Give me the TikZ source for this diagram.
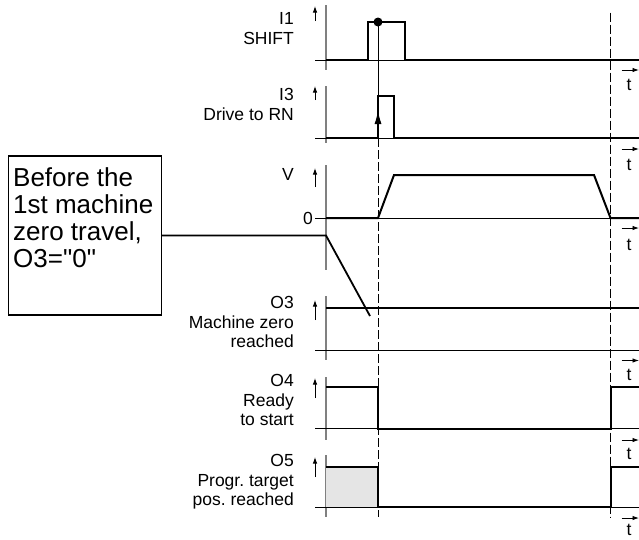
\documentclass[tikz,border=0pt]{standalone}
\usepackage{fontspec}
\setmainfont{Liberation Sans}[Ligatures=TeXOff]
\usetikzlibrary{positioning,arrows.meta}
\frenchspacing

\begin{document}
\begin{tikzpicture}[x=1pt,y=-1pt,
    sig/.style={line width=2pt,line join=miter},
    thin/.style={line width=0.9pt},
    axis/.style={line width=2pt,draw=black!50},
    uparr/.style={line width=0.9pt,-{Latex[length=6.5pt,width=4.5pt]}},
    tarr/.style={line width=0.9pt,-{Latex[length=6.5pt,width=4.5pt]}},
    guide/.style={line width=0.8pt},
    guidedash/.style={line width=0.8pt,dash pattern=on 9pt off 3pt},
    chlabel/.style={font=\fontsize{17.5}{19.5}\selectfont,align=right,anchor=north east,inner sep=0pt},
    tlabel/.style={font=\fontsize{17.5}{19.5}\selectfont,inner sep=0pt},
    notebox/.style={draw,line width=1.4pt,minimum width=153pt,minimum height=159pt,inner sep=0pt},
    notetext/.style={font=\fontsize{26}{27}\selectfont,align=left,anchor=north west,inner sep=0pt}
  ]
    \useasboundingbox (0,0) rectangle (639,539);

    % channel labels
    \node[chlabel] (lI1) at (294,12.5) {I1\\SHIFT};
    \node[chlabel] (lI3) at (294,88.5) {I3\\Drive to RN};
    \node[chlabel] (lV) at (294,168.5) {V};
    \node[chlabel,anchor=east] (lzero) at (313,218) {0};
    \node[chlabel] (lO3) at (294,296.5) {O3\\Machine zero\\reached};
    \node[chlabel] (lO4) at (294,374.5) {O4\\Ready\\to start};
    \node[chlabel] (lO5) at (294,454.5) {O5\\Progr. target\\pos. reached};

    % axes
    \draw[axis] (326,5) -- (326,70);
    \draw[axis] (326,86) -- (326,143);
    \draw[axis] (326,165) -- (326,270);
    \draw[axis] (326,296) -- (326,360);
    \draw[axis] (326,377) -- (326,440);
    \draw[axis] (326,455) -- (326,517);
    \draw[uparr] (315,21) -- (315,6);
    \draw[uparr] (315,100) -- (315,86);
    \draw[uparr] (315,187) -- (315,168);
    \draw[uparr] (315,320) -- (315,300);
    \draw[uparr] (315,398) -- (315,378);
    \draw[uparr] (315,477) -- (315,457);

    % baselines
    \draw[thin] (315,60) -- (639,60);
    \draw[thin] (315,138) -- (639,138);
    \draw[thin] (315,218) -- (639,218);
    \draw[thin] (315,350) -- (639,350);
    \draw[thin] (315,428.5) -- (639,428.5);
    \draw[thin] (315,507) -- (639,507);

    % time arrows
    \draw[tarr] (621.5,70) -- (639,70);
    \draw[tarr] (621.5,149) -- (639,149);
    \draw[tarr] (621.5,228) -- (639,228);
    \draw[tarr] (621.5,360.5) -- (639,360.5);
    \draw[tarr] (621.5,440) -- (639,440);
    \draw[tarr] (621.5,518) -- (639,518);
    \node[tlabel] (tI1) at (629,85) {t};
    \node[tlabel] (tI3) at (629,165) {t};
    \node[tlabel] (tV) at (629,245) {t};
    \node[tlabel] (tO3) at (629,375) {t};
    \node[tlabel] (tO4) at (629,454) {t};
    \node[tlabel] (tO5) at (629,530) {t};

    % time marks
    \draw[guide] (378,22) -- (378,138);
    \draw[guidedash] (378,138) -- (378,517);
    \draw[guidedash] (610.5,12.5) -- (610.5,517);

    % signals
    \fill[black!10] (326,466.5) rectangle (378,507);
    \draw[sig] (326,60) -- (368,60) -- (368,22) -- (405,22) -- (405,60) -- (639,60);
    \fill (378,22) circle (4.5pt);
    \draw[sig] (326,138) -- (378,138) -- (378,96) -- (394,96) -- (394,138) -- (639,138);
    \draw[line width=0.8pt,-{Latex[length=13pt,width=7pt]}] (378,130) -- (378,111);
    \draw[sig] (326,218) -- (378,218) -- (394,175) -- (594,175) -- (610.5,218) -- (639,218);
    \draw[sig] (326,307.5) -- (639,307.5);
    \draw[sig] (326,386.5) -- (378,386.5) -- (378,428.5) -- (610.5,428.5) -- (610.5,386.5) -- (639,386.5);
    \draw[sig] (326,466.5) -- (378,466.5) -- (378,507) -- (610.5,507) -- (610.5,466.5) -- (639,466.5);

    % note
    \node[notebox] (box) at (85,235.5) {};
    \node[notetext] (boxtext) at (13,167) {Before the\\1st machine\\zero travel,\\O3="0"};
    \coordinate (kink) at (326,235.5);
    \coordinate (o3end) at (370,316);
    \draw[line width=1.8pt] (box.east) -- (kink) -- (o3end);
\end{tikzpicture}
\end{document}
